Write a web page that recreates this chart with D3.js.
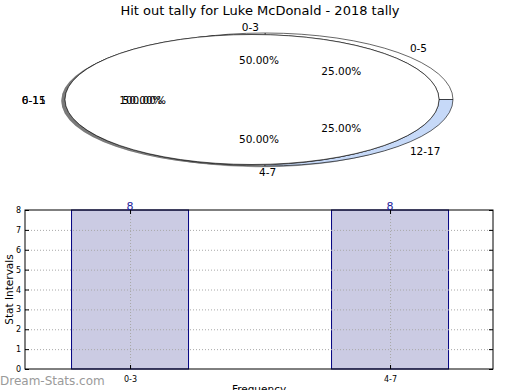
<!DOCTYPE html>
<html>
<head>
<meta charset="utf-8">
<script src="https://cdn.jsdelivr.net/npm/d3@7"></script>
<style>
  body { margin: 0; background: #fff; }
  svg { display: block; font-family: "DejaVu Sans", sans-serif; }
</style>
</head>
<body>
<svg id="chart" width="520" height="390"></svg>
<script>
// chart values
const chartTitle = "Hit out tally for Luke McDonald - 2018 tally"
const ringCats = ["0-5", "6-11", "12-17"]
const ringValues = [25, 50, 25]
const ringColors = ["#ffffff", "#ffffff", "#c6d9f8"]
const fullCats = ["0-15"]
const fullValues = [100]
const halfCats = ["0-3", "4-7"]
const halfValues = [50, 50]
const barCats = ["0-3", "4-7"]
const barValues = [8, 8]
const yTicks = [0, 1, 2, 3, 4, 5, 6, 7, 8]

const svg = d3.select("#chart")
svg.append("rect").attr("width", 520).attr("height", 390).attr("fill", "#fff")

svg.append("text")
    .attr("x", 260).attr("y", 10)
    .attr("text-anchor", "middle")
    .attr("dominant-baseline", "central")
    .style("font-size", "13px")
    .text(chartTitle)

// ---- pies (matplotlib style: counter-clockwise from 3 o'clock) ----
const pie = d3.pie().sort(null)
    .startAngle(Math.PI / 2)
    .endAngle(Math.PI / 2 - 2 * Math.PI)
const arc = d3.arc().innerRadius(0).outerRadius(1)
const labelGeom = { cx: 259, cy: 99.5, rx: 194, ry: 66 }
const fmtPct = d => d3.format(".2f")(d) + "%"

const pieLayer = svg.append("g")
const labelLayer = svg.append("g")

function shade(c) {
    const k = d3.rgb(c)
    return d3.rgb(k.r * 0.3, k.g * 0.3, k.b * 0.3).toString()
}

function drawPie(cats, values, colors, geom) {
    const arcs = pie(values)
    const total = d3.sum(values)
    const sh = pieLayer.append("g")
        .attr("transform", `translate(${geom.cx - 0.02 * geom.rx},${geom.cy + 0.02 * geom.ry}) scale(${geom.rx},${geom.ry})`)
    sh.selectAll("path").data(arcs).join("path")
        .attr("d", arc)
        .attr("fill", (d, i) => shade(colors[i]))
        .attr("opacity", 0.5)
    const g = pieLayer.append("g")
        .attr("transform", `translate(${geom.cx},${geom.cy}) scale(${geom.rx},${geom.ry})`)
    g.selectAll("path").data(arcs).join("path")
        .attr("d", arc)
        .attr("fill", (d, i) => colors[i])
        .attr("stroke", "#000")
        .attr("stroke-width", 0.6)
        .attr("vector-effect", "non-scaling-stroke")

    arcs.forEach((d, i) => {
        const a = (d.startAngle + d.endAngle) / 2
        const sx = Math.sin(a), sy = -Math.cos(a)
        labelLayer.append("text")
            .attr("x", labelGeom.cx + 1.1 * labelGeom.rx * sx)
            .attr("y", labelGeom.cy + 1.1 * labelGeom.ry * sy)
            .attr("text-anchor", sx >= 0 ? "start" : "end")
            .attr("dominant-baseline", "central")
            .style("font-size", "10.5px")
            .text(cats[i])
        labelLayer.append("text")
            .attr("x", labelGeom.cx + 0.6 * labelGeom.rx * sx)
            .attr("y", labelGeom.cy + 0.6 * labelGeom.ry * sy)
            .attr("text-anchor", "middle")
            .attr("dominant-baseline", "central")
            .style("font-size", "10.5px")
            .text(fmtPct(values[i] / total * 100))
    })
}

drawPie(ringCats, ringValues, ringColors, { cx: 265, cy: 99.5, rx: 188, ry: 66.5 })
drawPie(halfCats, halfValues, ["#ffffff", "#ffffff"], { cx: 252, cy: 99.5, rx: 187, ry: 65 })
drawPie(fullCats, fullValues, ["#ffffff"], { cx: 252, cy: 99.5, rx: 187, ry: 65 })

// ---- bar chart ----
const plot = { left: 25, right: 493, top: 210, bottom: 369 }
const x = d3.scaleLinear().domain([-0.404, 1.396]).range([plot.left, plot.right])
const y = d3.scaleLinear().domain([0, 8]).range([plot.bottom, plot.top])
const barW = 0.45

svg.append("g").selectAll("rect").data(barValues).join("rect")
    .attr("x", (d, i) => x(i - barW / 2))
    .attr("y", d => y(d))
    .attr("width", x(barW) - x(0))
    .attr("height", d => y(0) - y(d))
    .attr("fill", "#cbcbe3")
    .attr("stroke", "#000080")
    .attr("stroke-width", 1)

// dotted grid on top of bars
const grid = svg.append("g")
    .attr("stroke", "#a8a8a8")
    .attr("stroke-width", 1)
    .attr("stroke-dasharray", "1,2")
grid.selectAll(".hg").data(yTicks.slice(1, -1)).join("line")
    .attr("x1", plot.left).attr("x2", plot.right)
    .attr("y1", d => y(d) + 0.5).attr("y2", d => y(d) + 0.5)
grid.selectAll(".vg").data(barCats).join("line")
    .attr("x1", (d, i) => x(i) + 0.5).attr("x2", (d, i) => x(i) + 0.5)
    .attr("y1", plot.top).attr("y2", plot.bottom)

// axes
const yAxis = svg.append("g")
    .attr("transform", `translate(${plot.left},0)`)
    .call(d3.axisLeft(y).tickValues(yTicks).tickSizeInner(-4).tickSizeOuter(0).tickPadding(4))
const yAxisR = svg.append("g")
    .attr("transform", `translate(${plot.right},0)`)
    .call(d3.axisRight(y).tickValues(yTicks).tickSizeInner(-4).tickSizeOuter(0).tickFormat(""))
const xAxis = svg.append("g")
    .attr("transform", `translate(0,${plot.bottom})`)
    .call(d3.axisBottom(x).tickValues([0, 1]).tickSizeInner(-4).tickSizeOuter(0).tickPadding(7)
        .tickFormat(d => barCats[d]))
const xAxisT = svg.append("g")
    .attr("transform", `translate(0,${plot.top})`)
    .call(d3.axisTop(x).tickValues([0, 1]).tickSizeInner(-4).tickSizeOuter(0).tickFormat(""))
;[yAxis, yAxisR, xAxis, xAxisT].forEach(a => {
    a.select(".domain").remove()
    a.selectAll("text").style("font-family", "DejaVu Sans").style("font-size", "8px").attr("fill", "#000")
})

svg.append("rect")
    .attr("x", plot.left).attr("y", plot.top)
    .attr("width", plot.right - plot.left).attr("height", plot.bottom - plot.top)
    .attr("fill", "none").attr("stroke", "#000").attr("stroke-width", 1)

// value labels
svg.append("g").selectAll("text").data(barValues).join("text")
    .attr("x", (d, i) => x(i))
    .attr("y", d => y(d) - 0.5)
    .attr("text-anchor", "middle")
    .attr("fill", "#1c1c9c")
    .style("font-size", "11px")
    .text(d => d)

svg.append("text")
    .attr("transform", `translate(9,${(plot.top + plot.bottom) / 2}) rotate(-90)`)
    .attr("text-anchor", "middle")
    .attr("dominant-baseline", "central")
    .style("font-size", "10.5px")
    .text("Stat Intervals")

svg.append("text")
    .attr("x", (plot.left + plot.right) / 2).attr("y", 393)
    .attr("text-anchor", "middle")
    .style("font-size", "10.5px")
    .text("Frequency")

svg.append("text")
    .attr("x", 0).attr("y", 385)
    .attr("fill", "#9a9a9a")
    .style("font-size", "12px")
    .text("Dream-Stats.com")
</script>
</body>
</html>
